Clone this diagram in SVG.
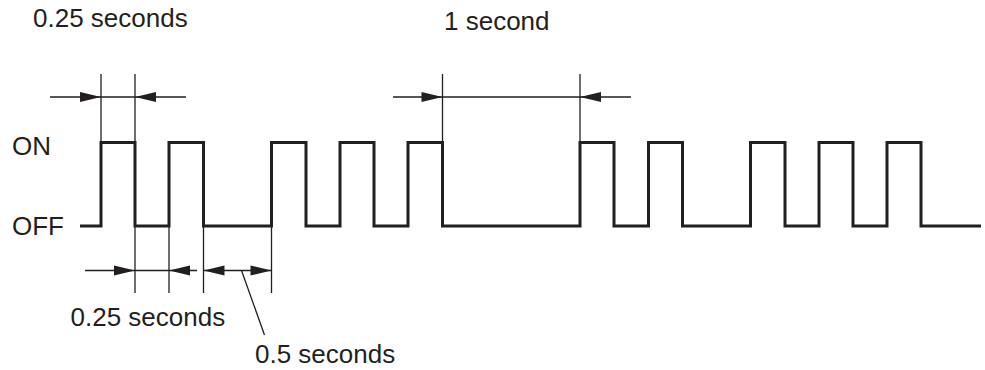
<svg xmlns="http://www.w3.org/2000/svg" width="985" height="370" viewBox="0 0 985 370">
<style>
.t{font-family:"Liberation Sans",Arial,sans-serif;font-size:26px;fill:#231f20}
.w{fill:none;stroke:#231f20;stroke-width:3;stroke-linejoin:miter}
.d{fill:none;stroke:#231f20;stroke-width:1.3}
.a{fill:#231f20}
</style>
<rect width="985" height="370" fill="#fff"/>
<g id="labels">
<text class="t" x="33" y="27">0.25 seconds</text>
<text class="t" x="444" y="30">1 second</text>
<text class="t" x="12" y="155">ON</text>
<text class="t" x="12" y="235">OFF</text>
<text class="t" x="70.5" y="326">0.25 seconds</text>
<text class="t" x="255" y="363">0.5 seconds</text>
</g>
<g id="waveform">
<path class="w" d="M80,226 H101 V142.5 H135 V226 H169 V142.5 H203.5 V226 H271.5 V142.5 H306 V226 H340 V142.5 H374 V226 H408 V142.5 H442.5 V226 H580 V142.5 H614 V226 H648.5 V142.5 H682.5 V226 H750.5 V142.5 H785 V226 H819 V142.5 H853 V226 H887 V142.5 H921 V226 H981"/>
</g>
<g id="connectors">
<path class="d" d="M101,74 V142 M135,74 V142 M50,97 H186"/>
<path class="a" d="M101,97 L80,92 L80,102 Z M135,97 L156,92 L156,102 Z"/>
<path class="d" d="M442.5,74 V142 M580,74 V142 M393,97 H631"/>
<path class="a" d="M442.5,97 L421.5,92 L421.5,102 Z M580,97 L601,92 L601,102 Z"/>
<path class="d" d="M135,226 V293 M169,226 V293 M203.5,226 V293 M271.5,226 V293 M85,270.5 H197 M203.5,270.5 H271.5"/>
<path class="a" d="M135,270.5 L114,265.5 L114,275.5 Z M169,270.5 L190,265.5 L190,275.5 Z M203.5,270.5 L224.5,265.5 L224.5,275.5 Z M271.5,270.5 L250.5,265.5 L250.5,275.5 Z"/>
<path class="d" d="M241.5,270.5 L264.5,335"/>
</g>
</svg>
